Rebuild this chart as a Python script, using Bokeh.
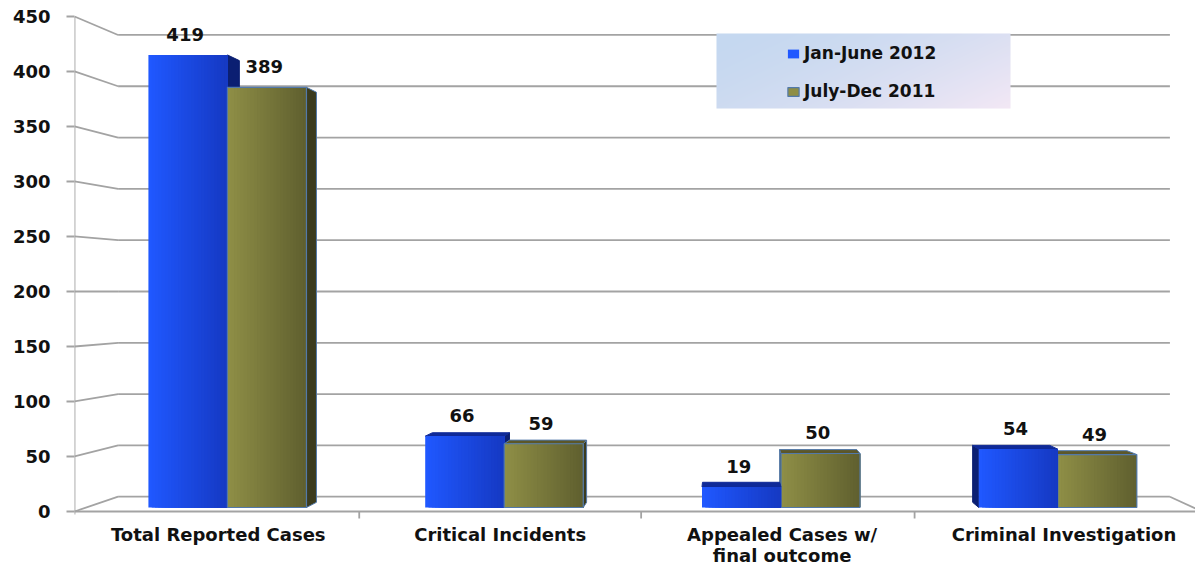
import numpy as np
from bokeh.plotting import figure
from bokeh.models import Range1d, LinearAxis, FixedTicker, Legend, LegendItem
from bokeh.embed import file_html
from bokeh.resources import INLINE
from bokeh.core.properties import value

# ---- data ----
categories = ["Total Reported Cases", "Critical Incidents",
              "Appealed Cases w/\nfinal outcome", "Criminal Investigation"]
series_names = ["Jan-June 2012", "July-Dec 2011"]
jan_june_2012 = [419, 66, 19, 54]
july_dec_2011 = [389, 59, 50, 49]
y_ticks = [0, 50, 100, 150, 200, 250, 300, 350, 400, 450]

# ---- layout / look ----
PLOT_W, PLOT_H = 1195, 565
FRAME_LEFT = 74
FONT = "DejaVu Sans"
GRID_COLOR = "#a3a3a3"

# simple perspective: every depth plane is a homothety about a vanishing point
XV, YV = 1.79, 200.0          # vanishing point (category units, value units)
S_FRONT = 1.0185              # front edge of floor / value axis
S_BACK = 0.95                 # back wall
S_BAR_BACK = 0.976            # rear face of the bars
WALL_X0, WALL_X1 = -0.51, 3.49
BAR_W = 0.2855


def proj(x, y, s):
    return XV + (x - XV) * s, YV + (y - YV) * s


x_start = proj(WALL_X0, 0, S_FRONT)[0]
X_SPAN = 4.05
Y0, Y1 = -53.7, 469.4
x_range = Range1d(x_start, x_start + X_SPAN)
y_range = Range1d(Y0, Y1)
front_range = Range1d(YV + (Y0 - YV) / S_FRONT, YV + (Y1 - YV) / S_FRONT)

X_PER_PX = X_SPAN / (PLOT_W - FRAME_LEFT)
Y_PER_PX = (Y1 - Y0) / PLOT_H


def sx(px):
    return x_start + (px - FRAME_LEFT) * X_PER_PX


def sy(py):
    return Y1 - py * Y_PER_PX


p = figure(width=PLOT_W, height=PLOT_H, x_range=x_range, y_range=y_range,
           output_backend="svg", toolbar_location=None,
           x_axis_location=None, y_axis_location=None,
           min_border_left=FRAME_LEFT, min_border_right=0,
           min_border_top=0, min_border_bottom=0)
p.outline_line_color = None
p.grid.visible = False
p.background_fill_color = "white"
p.border_fill_color = "white"

# ---- value axis (front plane) ----
p.extra_y_ranges = {"front": front_range}
yax = LinearAxis(y_range_name="front", ticker=FixedTicker(ticks=y_ticks))
yax.axis_line_color = None
yax.major_tick_line_color = GRID_COLOR
yax.major_tick_line_width = 2
yax.major_tick_out = 8
yax.major_tick_in = 0
yax.minor_tick_line_color = None
yax.major_label_standoff = 16
yax.major_label_text_font = FONT
yax.major_label_text_font_style = "bold"
yax.major_label_text_font_size = "18px"
yax.major_label_text_color = "#111111"
p.add_layout(yax, "left")

# ---- walls, floor and gridlines ----
gx0, gy0, gx1, gy1 = [], [], [], []
for t in y_ticks:
    fx, fy = proj(WALL_X0, t, S_FRONT)
    bx, by = proj(WALL_X0, t, S_BACK)
    ex, ey = proj(WALL_X1, t, S_BACK)
    gx0 += [fx, bx]; gy0 += [fy, by]; gx1 += [bx, ex]; gy1 += [by, ey]
# floor front edge and right edge
fl_x0, fl_y0 = proj(WALL_X0, 0, S_FRONT)
fl_x1, fl_y1 = proj(WALL_X1, 0, S_FRONT)
br_x, br_y = proj(WALL_X1, 0, S_BACK)
gx0 += [fl_x0, br_x]; gy0 += [fl_y0, br_y]; gx1 += [fl_x1, fl_x1]; gy1 += [fl_y1, fl_y1]
# value axis line
ax_top = proj(WALL_X0, y_ticks[-1], S_FRONT)
gx0.append(ax_top[0]); gy0.append(ax_top[1]); gx1.append(ax_top[0]); gy1.append(fl_y0 - 3 * Y_PER_PX)
# category separators on the front edge
for b in [0.5, 1.5, 2.47]:
    tx, ty = proj(b, 0, S_FRONT)
    gx0.append(tx); gy0.append(ty); gx1.append(tx); gy1.append(ty - 7 * Y_PER_PX)
p.segment(x0=gx0, y0=gy0, x1=gx1, y1=gy1, line_color=GRID_COLOR, line_width=1.8)

# ---- bars ----
styles = [
    dict(c_left=(32, 88, 255), c_right=(22, 58, 196), side="#0b1f72", top="#0f2a98", edge=None),
    dict(c_left=(142, 142, 70), c_right=(96, 96, 48), side="#3b3b1e", top="#5c5729", edge="#5279aa"),
]
bars = []
for k, vals in enumerate([jan_june_2012, july_dec_2011]):
    for i, v in enumerate(vals):
        left = i - BAR_W + k * BAR_W
        bars.append(dict(i=i, k=k, v=v, left=left, right=left + BAR_W))
bars.sort(key=lambda b: -abs((b["left"] + b["right"]) / 2 - XV))

N_STRIPS = 24
front_renderers = {}
for b in bars:
    st = styles[b["k"]]
    L, R, v = b["left"], b["right"], b["v"]
    # side faces
    if R < XV:
        e = R
    elif L > XV:
        e = L
    else:
        e = None
    if e is not None:
        p0 = (e, 0); p1 = (e, v); p2 = proj(e, v, S_BAR_BACK); p3 = proj(e, 0, S_BAR_BACK)
        p.patch(x=[p0[0], p1[0], p2[0], p3[0]], y=[p0[1], p1[1], p2[1], p3[1]],
                fill_color=st["side"], line_color=st["edge"] or st["side"], line_width=1)
    # top face
    if v < YV:
        a = proj(R, v, S_BAR_BACK); c = proj(L, v, S_BAR_BACK)
        p.patch(x=[L, R, a[0], c[0]], y=[v, v, a[1], c[1]],
                fill_color=st["top"], line_color=st["edge"] or st["top"], line_width=1)
    # front face with a left-to-right shade; each strip runs to the right edge
    edges = np.linspace(L, R, N_STRIPS + 1)[:-1]
    cl, cr = np.array(st["c_left"]), np.array(st["c_right"])
    cols = []
    for j in range(N_STRIPS):
        t = j / (N_STRIPS - 1)
        c = (cl + (cr - cl) * t).astype(int)
        cols.append("#%02x%02x%02x" % tuple(c))
    r_front = p.quad(left=edges, right=[R] * N_STRIPS, bottom=0, top=v,
                     fill_color=cols, line_color=None)
    rs = [r_front]
    if st["edge"]:
        rs.append(p.quad(left=[L], right=[R], bottom=[0], top=[v], fill_color=None,
                         line_color=st["edge"], line_width=1.2))
    front_renderers.setdefault(b["k"], rs)

# ---- value labels ----
lab_x, lab_y, lab_t = [], [], []
for k, vals in enumerate([jan_june_2012, july_dec_2011]):
    for i, v in enumerate(vals):
        lab_x.append(i - BAR_W / 2 + k * BAR_W - 0.01)
        lab_y.append(v + 19)
        lab_t.append(str(v))
p.text(x=lab_x, y=lab_y, text=lab_t, text_align="center", text_baseline="alphabetic",
       text_font=value(FONT), text_font_style="bold", text_font_size="18px",
       text_color="#111111")

# ---- category labels ----
cat_x = [proj(i, 0, S_FRONT)[0] for i in range(len(categories))]
p.text(x=cat_x, y=[sy(523)] * len(categories), text=categories,
       text_align="center", text_baseline="top", text_line_height=1.0,
       text_font=value(FONT), text_font_style="bold", text_font_size="18px",
       text_color="#111111")

# ---- legend ----
LB_L, LB_R, LB_T, LB_B = 716, 1010, 33, 108
w_px, h_px = LB_R - LB_L, LB_B - LB_T
u = np.linspace(0, 1, w_px)[None, :]
vv = np.linspace(1, 0, h_px)[:, None]          # row 0 is the bottom
t = np.clip((u * 0.65 + vv * 0.35), 0, 1) ** 1.6
c0 = np.array([197, 216, 240]); c1 = np.array([243, 232, 245])
rgb = c0[None, None, :] + (c1 - c0)[None, None, :] * t[..., None]
img = np.empty((h_px, w_px), dtype=np.uint32)
view = img.view(dtype=np.uint8).reshape((h_px, w_px, 4))
view[..., 0] = rgb[..., 0]; view[..., 1] = rgb[..., 1]; view[..., 2] = rgb[..., 2]; view[..., 3] = 255
p.image_rgba(image=[img], x=sx(LB_L), y=sy(LB_B), dw=sx(LB_R) - sx(LB_L), dh=sy(LB_T) - sy(LB_B))

legend = Legend(items=[LegendItem(label=series_names[0], renderers=front_renderers[0], index=0),
                       LegendItem(label=series_names[1], renderers=front_renderers[1], index=0)],
                location=(786 - FRAME_LEFT, PLOT_H - 101),
                orientation="vertical", padding=0, margin=0, spacing=18,
                glyph_width=14, glyph_height=11, label_standoff=4, label_height=20,
                label_text_font=FONT, label_text_font_style="bold",
                label_text_font_size="17px", label_text_color="#111111",
                background_fill_alpha=0, border_line_color=None)
p.add_layout(legend)

open("out.html", "w").write(file_html(p, INLINE))
